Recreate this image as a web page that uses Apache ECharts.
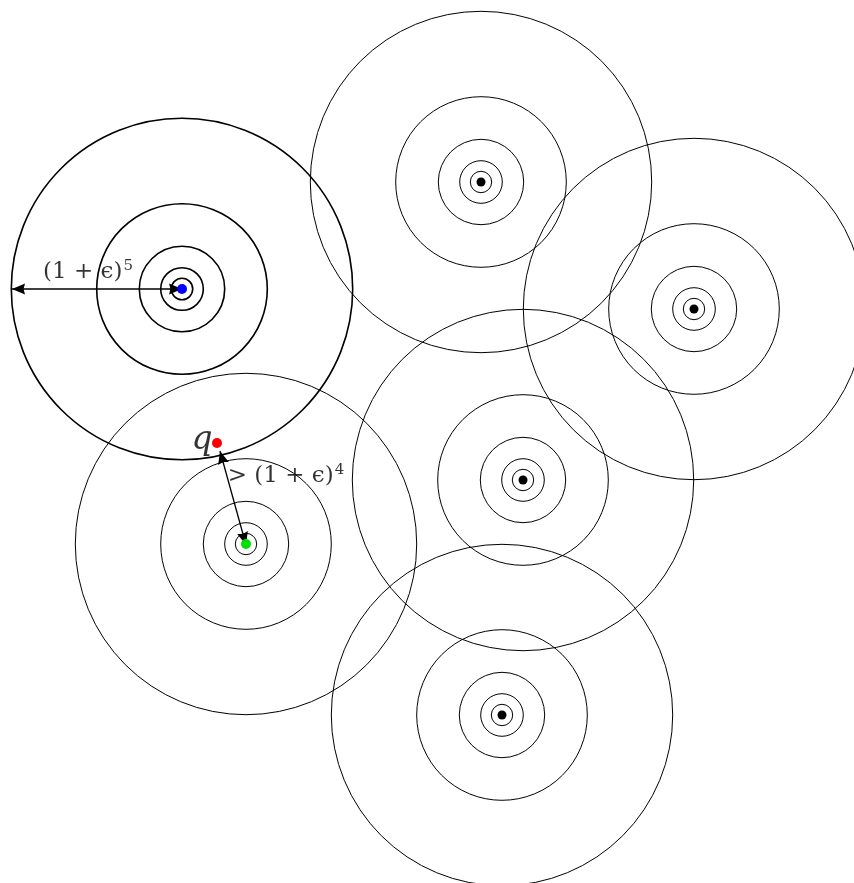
<!DOCTYPE html>
<html>
<head>
<meta charset="utf-8">
<script src="https://cdn.jsdelivr.net/npm/echarts@6/dist/echarts.min.js"></script>
<style>
  html, body { margin: 0; padding: 0; background: #fff; }
  #chart { width: 854px; height: 883px; }
</style>
</head>
<body>
<div id="chart"></div>
<script>
// centres of the ring families (data units = page pixels, y grows downward)
const centerX = [182, 481, 694, 523, 502, 246];
const centerY = [289, 182, 309, 480, 715, 544];
const centerColor = ['#0000ff', '#000000', '#000000', '#000000', '#000000', '#00e000'];
// ring radii: (1+eps)^1 .. (1+eps)^5
const ringRadii = [10.7, 21.3, 42.7, 85.3, 170.7];
const queryPoint = [217, 443];
// double-headed arrows: [x1, y1, x2, y2]
const arrowOuter = [182, 289, 12, 289];
const arrowQuery = [246, 545, 220, 451];

let rings = [];
centerX.forEach((x, i) => {
  ringRadii.forEach((r) => {
    rings.push([x, centerY[i], r, i === 0 ? 1.6 : 1]);
  });
});

let dots = centerX.map((x, i) => ({
  value: [x, centerY[i]],
  symbolSize: i === 0 || i === 5 ? 10 : 9,
  itemStyle: {color: centerColor[i], opacity: 1}
}));
dots.push({value: queryPoint, symbolSize: 10, itemStyle: {color: '#ff0000', opacity: 1}});

const serif = '"DejaVu Serif", "Liberation Serif", serif';
const rich = {
  a: {fontSize: 23, fontFamily: serif, color: '#000'},
  s: {fontSize: 15, fontFamily: serif, color: '#000', verticalAlign: 'top', padding: [0, 0, 11, 1]}
};

// arrow head with its tip at (tx, ty), pointing away from (fx, fy)
function head(tx, ty, fx, fy) {
  const len = 13, half = 5.5, notch = 1.5;
  const d = Math.hypot(tx - fx, ty - fy);
  const ux = (tx - fx) / d, uy = (ty - fy) / d;
  const bx = tx - ux * len, by = ty - uy * len;
  return [
    [tx, ty],
    [bx - uy * half, by + ux * half],
    [tx - ux * (len - notch), ty - uy * (len - notch)],
    [bx + uy * half, by - ux * half]
  ];
}

const chart = echarts.init(document.getElementById('chart'));
const option = {
  animation: false,
  grid: {left: 0, right: 0, top: 0, bottom: 0},
  xAxis: {type: 'value', min: 0, max: 854, show: false},
  yAxis: {type: 'value', min: 0, max: 883, inverse: true, show: false},
  series: [
    {
      type: 'custom',
      clip: false,
      data: rings,
      renderItem: (params, api) => {
        const c = api.coord([api.value(0), api.value(1)]);
        const r = Math.abs(api.size([api.value(2), 0])[0]);
        return {
          type: 'circle',
          shape: {cx: c[0], cy: c[1], r: r},
          style: {fill: 'none', stroke: '#000', lineWidth: api.value(3)}
        };
      }
    },
    {
      type: 'custom',
      clip: false,
      z: 4,
      data: [arrowOuter, arrowQuery],
      renderItem: (params, api) => {
        const a = api.coord([api.value(0), api.value(1)]);
        const b = api.coord([api.value(2), api.value(3)]);
        return {
          type: 'group',
          children: [
            {type: 'line', shape: {x1: a[0], y1: a[1], x2: b[0], y2: b[1]},
             style: {stroke: '#000', lineWidth: 1.3}},
            {type: 'polygon', shape: {points: head(a[0], a[1], b[0], b[1])},
             style: {fill: '#000'}},
            {type: 'polygon', shape: {points: head(b[0], b[1], a[0], a[1])},
             style: {fill: '#000'}}
          ]
        };
      }
    },
    {
      type: 'scatter',
      symbol: 'circle',
      data: dots,
      z: 5
    },
    {
      type: 'scatter',
      symbolSize: 0,
      z: 6,
      data: [
        {
          value: [202, 440],
          label: {show: true, formatter: 'q', fontSize: 33, fontStyle: 'italic',
                  fontFamily: serif, color: '#000'}
        },
        {
          value: [88, 272],
          label: {show: true, formatter: '{a|(1 + ϵ)}{s|5}', rich: rich}
        },
        {
          value: [286, 476],
          label: {show: true, formatter: '{a|> (1 + ϵ)}{s|4}', rich: rich}
        }
      ],
      label: {position: 'inside'}
    }
  ]
};
chart.setOption(option);
</script>
</body>
</html>
